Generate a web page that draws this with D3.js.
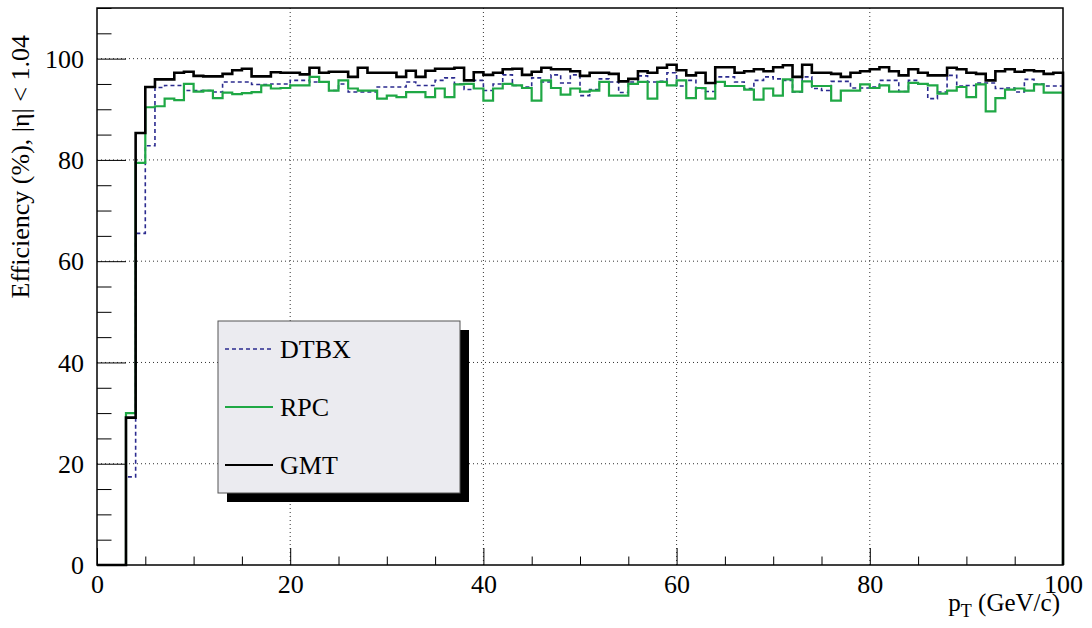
<!DOCTYPE html>
<html>
<head>
<meta charset="utf-8">
<script src="https://cdn.jsdelivr.net/npm/d3@7"></script>
<style>
  body { margin: 0; background: #fff; }
  svg { display: block; }
  svg text { font-family: "Liberation Serif", "DejaVu Serif", serif !important; fill: #000; }
</style>
</head>
<body>
<svg width="1092" height="628"></svg>
<script>
// efficiency per 1 GeV bin, pT = 0..100
const dtbx = [
  0, 0, 0, 17.4, 65.5, 82.8, 94.3, 94.7, 94.7, 93.7,
  93.7, 93.7, 93.4, 95.4, 95.4, 95.4, 94.9, 94.9, 95.0, 95.0,
  95.7, 95.7, 95.4, 95.4, 93.7, 95.0, 93.4, 93.4, 93.4, 94.4,
  94.4, 94.4, 95.4, 94.7, 94.7, 95.7, 96.2, 95.0, 93.9, 95.7,
  93.7, 95.0, 96.8, 94.7, 94.4, 96.2, 95.4, 96.8, 95.2, 96.8,
  92.7, 93.9, 96.0, 95.4, 93.3, 95.4, 96.6, 95.4, 95.5, 97.2,
  94.6, 95.7, 94.1, 93.5, 96.4, 96.4, 95.4, 94.1, 95.7, 96.4,
  96.0, 95.7, 93.4, 96.4, 94.1, 93.7, 95.5, 95.5, 94.2, 94.2,
  94.4, 95.7, 95.7, 93.5, 95.7, 95.0, 92.1, 93.4, 96.7, 94.6,
  94.7, 95.2, 95.2, 94.1, 94.2, 93.4, 95.9, 95.0, 94.6, 94.6
];
const rpc = [
  0, 0, 0, 30.0, 79.4, 90.4, 90.6, 92.1, 91.8, 95.0,
  93.5, 93.7, 92.2, 93.3, 93.0, 93.2, 93.4, 94.7, 94.1, 94.2,
  94.7, 94.7, 96.4, 95.4, 93.7, 95.7, 94.1, 93.7, 93.7, 92.1,
  92.7, 92.4, 93.4, 93.4, 92.4, 94.1, 92.4, 94.9, 95.0, 94.1,
  91.7, 94.1, 95.0, 94.7, 94.2, 91.7, 95.7, 94.2, 92.9, 94.1,
  93.5, 93.7, 95.4, 92.7, 92.7, 95.0, 95.4, 92.1, 95.4, 94.7,
  95.7, 92.2, 94.2, 92.1, 95.4, 94.6, 94.6, 93.9, 91.9, 94.1,
  92.7, 95.9, 93.5, 95.5, 94.6, 94.6, 91.7, 93.7, 93.7, 94.9,
  94.2, 94.7, 93.5, 93.5, 95.2, 95.0, 94.7, 93.1, 93.7, 94.4,
  92.4, 94.9, 89.6, 92.2, 93.9, 94.1, 93.7, 94.9, 93.3, 93.3
];
const gmt = [
  0, 0, 0, 29.1, 85.3, 94.4, 95.9, 95.9, 97.2, 97.4,
  96.6, 96.5, 96.5, 97.0, 97.7, 98.0, 96.5, 96.5, 97.3, 97.2,
  97.2, 96.9, 98.2, 97.2, 97.4, 97.4, 96.4, 98.2, 97.2, 97.2,
  97.2, 96.4, 97.6, 96.4, 97.6, 98.0, 98.0, 98.2, 95.7, 97.3,
  96.8, 97.2, 97.9, 98.0, 96.8, 97.4, 98.2, 97.9, 97.9, 97.5,
  96.6, 97.2, 97.2, 97.0, 95.5, 96.0, 97.5, 97.2, 98.2, 98.8,
  97.7, 96.7, 97.2, 95.2, 98.3, 98.3, 97.2, 97.5, 97.9, 97.5,
  98.3, 98.7, 96.4, 98.8, 97.2, 97.2, 97.0, 96.4, 97.2, 97.5,
  97.9, 98.3, 97.5, 96.7, 97.9, 97.2, 96.7, 96.7, 98.2, 97.9,
  97.2, 97.0, 95.7, 97.5, 97.9, 97.4, 97.7, 97.5, 97.0, 97.2
];
const seriesNames = ['DTBX', 'RPC', 'GMT'];
const xMajor = [0, 20, 40, 60, 80, 100];
const yMajor = [0, 20, 40, 60, 80, 100];

const svg = d3.select('svg');
const margin = { top: 8, right: 29, bottom: 63, left: 97 };
const width = +svg.attr('width');
const height = +svg.attr('height');
const innerWidth = width - margin.left - margin.right;
const innerHeight = height - margin.top - margin.bottom;

const xScale = d3.scaleLinear().domain([0, 100]).range([0, innerWidth]);
const yScale = d3.scaleLinear().domain([0, 110]).range([innerHeight, 0]);

const g = svg.append('g')
  .attr('transform', `translate(${margin.left},${margin.top})`);

// dotted grid
g.append('g').selectAll('line')
  .data(xMajor.slice(1, -1))
  .join('line')
    .attr('x1', d => xScale(d)).attr('x2', d => xScale(d))
    .attr('y1', 0).attr('y2', innerHeight)
    .attr('stroke', '#333').attr('stroke-dasharray', '1,3');
g.append('g').selectAll('line')
  .data(yMajor.slice(1))
  .join('line')
    .attr('x1', 0).attr('x2', innerWidth)
    .attr('y1', d => yScale(d)).attr('y2', d => yScale(d))
    .attr('stroke', '#333').attr('stroke-dasharray', '1,3');

// axes with inward ticks
const xMinor = d3.range(0, 101, 5).filter(d => d % 20 !== 0);
const yMinor = d3.range(0, 111, 5).filter(d => d % 20 !== 0);

const xAxisG = g.append('g').attr('transform', `translate(0,${innerHeight})`);
xAxisG.call(d3.axisBottom(xScale).tickValues(xMajor).tickSize(-17)
  .tickFormat(d3.format('d')));
xAxisG.append('g').attr('class', 'minor')
  .call(d3.axisBottom(xScale).tickValues(xMinor).tickSize(-8.5));

const yAxisG = g.append('g');
yAxisG.call(d3.axisLeft(yScale).tickValues(yMajor).tickSize(-29)
  .tickFormat(d3.format('d')));
yAxisG.append('g').attr('class', 'minor')
  .call(d3.axisLeft(yScale).tickValues(yMinor).tickSize(-14.5));

svg.selectAll('.minor text').remove();
svg.selectAll('.domain').remove();
svg.selectAll('.tick line').attr('stroke', '#000').attr('stroke-width', 1);
svg.selectAll('.tick text').attr('font-size', 26);
xAxisG.selectAll('.tick text').attr('y', 28).attr('dy', null);
yAxisG.selectAll('.tick text').attr('text-anchor', 'end').attr('x', -13).attr('dy', '0.33em');

// histogram step lines
const stepLine = d3.line()
  .x(d => xScale(d[0]))
  .y(d => yScale(d[1]))
  .curve(d3.curveStepAfter);
const toSteps = values => {
  const pts = [[0, 0]];
  values.forEach((v, i) => pts.push([i, v]));
  pts.push([100, values[values.length - 1]]);
  pts.push([100, 0]);
  return pts;
};

const styles = {
  DTBX: { color: '#2b2b8f', width: 1.6, dash: '4,3' },
  RPC: { color: '#1fa845', width: 2.2, dash: null },
  GMT: { color: '#000000', width: 2.6, dash: null }
};
const seriesData = { DTBX: dtbx, RPC: rpc, GMT: gmt };

seriesNames.forEach(name => {
  g.append('path')
    .datum(toSteps(seriesData[name]))
    .attr('d', stepLine)
    .attr('fill', 'none')
    .attr('stroke', styles[name].color)
    .attr('stroke-width', styles[name].width)
    .attr('stroke-dasharray', styles[name].dash);
});

// frame
g.append('rect')
  .attr('x', 0).attr('y', 0)
  .attr('width', innerWidth).attr('height', innerHeight)
  .attr('fill', 'none').attr('stroke', '#000').attr('stroke-width', 1.5);

// axis titles
svg.append('text')
  .attr('transform', 'translate(29,35) rotate(-90)')
  .attr('text-anchor', 'end')
  .attr('font-size', 26)
  .text('Efficiency (%), |η| < 1.04');

const xTitle = svg.append('text')
  .attr('x', 1060).attr('y', 611)
  .attr('text-anchor', 'end')
  .attr('font-size', 25);
xTitle.append('tspan').text('p');
xTitle.append('tspan').attr('dy', 6).attr('font-size', 18).text('T');
xTitle.append('tspan').attr('dy', -6).text(' (GeV/c)');

// legend
const legend = svg.append('g').attr('transform', 'translate(218,321)');
legend.append('rect')
  .attr('x', 9).attr('y', 9).attr('width', 242).attr('height', 172)
  .attr('fill', '#000');
legend.append('rect')
  .attr('width', 242).attr('height', 172)
  .attr('fill', '#ebebf0').attr('stroke', '#555').attr('stroke-width', 1);
const entries = legend.selectAll('g.entry')
  .data(seriesNames)
  .join('g')
    .attr('class', 'entry')
    .attr('transform', (d, i) => `translate(0,${28 + i * 58})`);
entries.append('line')
  .attr('x1', 7).attr('x2', 55)
  .attr('stroke', d => styles[d].color)
  .attr('stroke-width', d => Math.min(styles[d].width, 2))
  .attr('stroke-dasharray', d => styles[d].dash);
entries.append('text')
  .attr('x', 62).attr('dy', '0.35em')
  .attr('font-size', 26)
  .text(d => d);
</script>
</body>
</html>
